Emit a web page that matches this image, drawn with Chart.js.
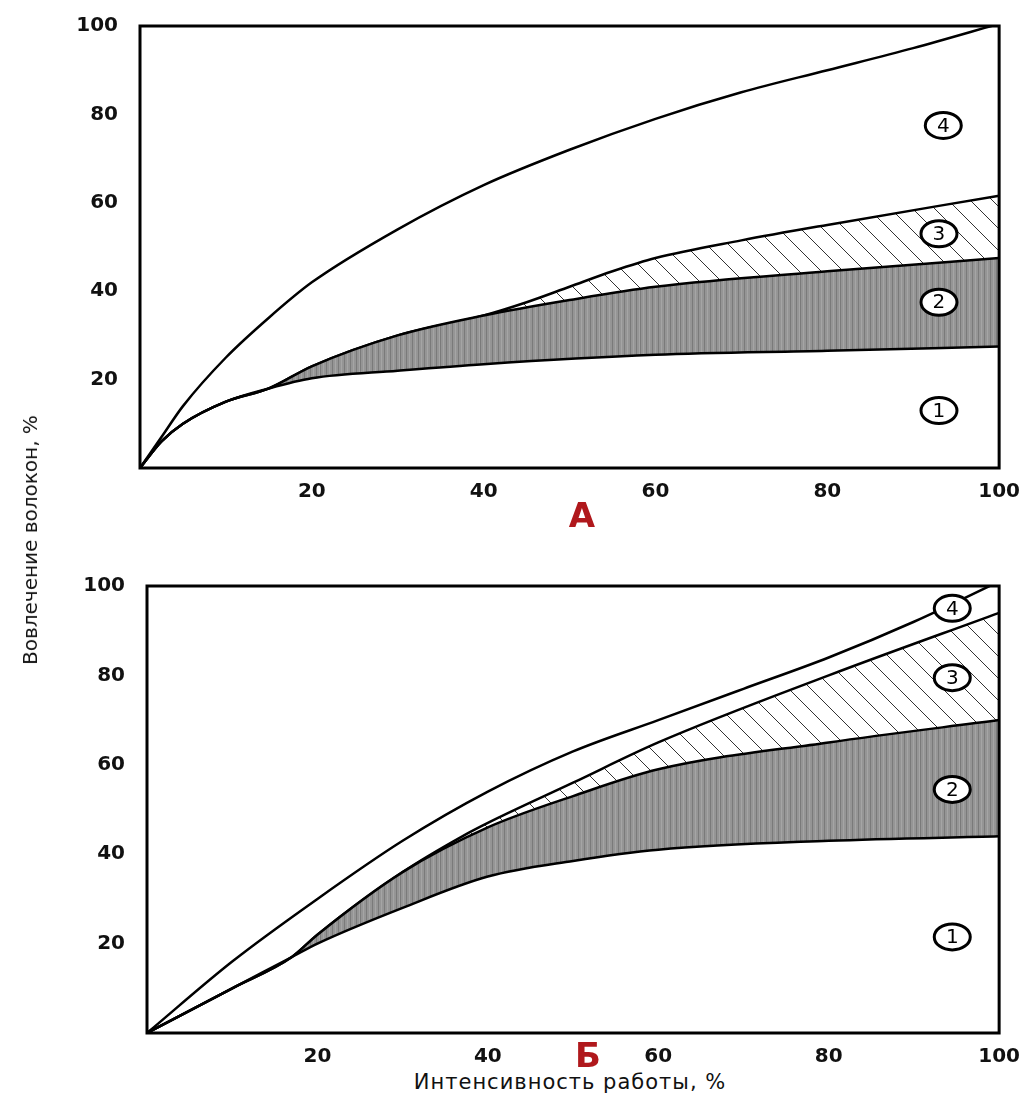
<!DOCTYPE html>
<html><head><meta charset="utf-8">
<script src="https://cdn.jsdelivr.net/npm/chart.js@4"></script>
<style>
body{margin:0;background:#fff;width:1024px;height:1106px;position:relative;overflow:hidden;font-family:"DejaVu Sans",sans-serif}
.box{position:absolute;left:0;width:1024px;height:510px}
#ylab{position:absolute;left:30px;top:540px;transform:translate(-50%,-50%) rotate(-90deg);font-size:20px;white-space:nowrap;color:#111}
#xlab{position:absolute;left:570px;top:1082px;transform:translate(-50%,-50%);font-size:21px;letter-spacing:1px;color:#111;white-space:nowrap}
.ttl{position:absolute;color:#b0181c;font-size:34px;font-weight:bold;transform:translate(-50%,-50%)}
</style></head><body>
<div class="box" style="top:0"><canvas id="cA"></canvas></div>
<div class="box" style="top:560px"><canvas id="cB"></canvas></div>
<div id="ylab">Вовлечение волокон, %</div>
<div id="xlab">Интенсивность работы, %</div>
<div class="ttl" style="left:582px;top:515px">А</div>
<div class="ttl" style="left:588px;top:1055px">Б</div>
<script>
// ── data (x = intensity %, y = fibre recruitment %) ──
const a1 = [[0,0],[2.5,6],[5,10],[10,15],[15,18],[20,20.3],[30,22],[40,23.5],[60,25.6],[80,26.5],[100,27.5]];
const a2 = [[0,0],[2.5,6],[5,10],[10,15],[15,18],[20,23],[30,30],[40,34.5],[50,38],[60,41],[80,44.5],[100,47.5]];
const a3 = [[0,0],[2.5,6],[5,10],[10,15],[15,18],[20,23],[30,30],[40,34.5],[45,37.5],[50,41],[55,44.5],[60,47.5],[70,51.5],[80,55],[100,61.6]];
const a4 = [[0,0],[2.5,7],[5,14],[10,25],[15,34],[20,42],[30,54],[40,64],[50,72],[60,79],[70,85],[80,90],[90,95],[100,100.5]];
const b1 = [[0,0],[10,10],[17,17],[20,20],[30,28],[40,35],[50,38.5],[60,41],[80,43],[100,44]];
const b2 = [[0,0],[10,10],[17,17],[20,22],[30,36],[40,46],[50,53],[60,59],[80,65],[100,70]];
const b3 = [[0,0],[10,10],[17,17],[20,22],[30,36],[37,44],[40,47],[50,56],[60,65],[80,80],[100,94]];
const b4 = [[0,0],[10,16],[20,30],[30,43],[40,54],[50,63],[60,70],[70,77],[80,84],[90,92],[100,101]];
const xTicks = [20, 40, 60, 80, 100];
const yTicks = [20, 40, 60, 80, 100];
const markA = [['4',93.5,77.5],['3',93,53],['2',93,37.5],['1',93,13]];
const markB = [['4',94.5,95],['3',94.5,79.5],['2',94.5,54.5],['1',94.5,21.5]];

const pts = arr => arr.map(([x,y]) => ({x,y}));

function grayPattern() {
  const c = document.createElement('canvas'); c.width = 40; c.height = 8;
  const g = c.getContext('2d');
  g.fillStyle = '#959595'; g.fillRect(0,0,40,8);
  const shades = ['#7a7a7a','#b0b0b0','#858585','#a5a5a5','#6f6f6f','#bababa'];
  for (let i = 0; i < 40; i += 3) { g.fillStyle = shades[i % 6]; g.fillRect(i,0,1,8); }
  return g.createPattern(c,'repeat');
}
function hatchPattern() {
  const c = document.createElement('canvas'); c.width = 22; c.height = 22;
  const g = c.getContext('2d');
  g.fillStyle = '#fff'; g.fillRect(0,0,22,22);
  g.strokeStyle = '#333'; g.lineWidth = 1;
  g.beginPath(); g.moveTo(0,0); g.lineTo(22,22); g.moveTo(-11,11); g.lineTo(11,33); g.moveTo(11,-11); g.lineTo(33,11); g.stroke();
  return g.createPattern(c,'repeat');
}

const frame = {
  id: 'frame',
  afterDatasetsDraw(chart, args, opts) {
    const {ctx, chartArea: a, scales: {x, y}} = chart;
    ctx.save();
    ctx.strokeStyle = '#000'; ctx.lineWidth = 3;
    ctx.strokeRect(a.left, a.top, a.right - a.left, a.bottom - a.top);
    ctx.font = '20px "DejaVu Sans"'; ctx.textAlign = 'center'; ctx.textBaseline = 'middle';
    opts.marks.forEach(([t, vx, vy]) => {
      const px = x.getPixelForValue(vx), py = y.getPixelForValue(vy);
      ctx.beginPath(); ctx.ellipse(px, py, 18, 13, 0, 0, Math.PI * 2);
      ctx.fillStyle = '#fff'; ctx.fill(); ctx.lineWidth = 3; ctx.stroke();
      ctx.fillStyle = '#000'; ctx.fillText(t, px, py + 1);
    });
    ctx.restore();
  }
};

function makeChart(id, s1, s2, s3, s4, marks, pad, yW, xH) {
  const line = (data, fill, bg) => ({ data: pts(data), borderColor: '#000', borderWidth: 2.5, pointRadius: 0, cubicInterpolationMode: 'monotone', fill, backgroundColor: bg });
  const tickFont = { family: '"DejaVu Sans"', size: 20, weight: 'bold' };
  return new Chart(document.getElementById(id), {
    type: 'line',
    data: { datasets: [
      line(s1, false, 'transparent'),
      line(s2, '-1', grayPattern()),
      line(s3, '-1', hatchPattern()),
      line(s4, false, 'transparent')
    ] },
    options: {
      responsive: true, maintainAspectRatio: false, animation: false,
      layout: { padding: pad },
      plugins: { legend: { display: false }, tooltip: { enabled: false }, frame: { marks } },
      scales: {
        x: { type: 'linear', min: 0, max: 100, grid: { display: false }, border: { display: false },
             afterBuildTicks: s => { s.ticks = xTicks.map(v => ({ value: v })); },
             afterFit: s => { s.height = xH; },
             ticks: { color: '#111', font: tickFont, padding: 4 } },
        y: { min: 0, max: 100, grid: { display: false }, border: { display: false },
             afterBuildTicks: s => { s.ticks = yTicks.map(v => ({ value: v })); },
             afterFit: s => { s.width = yW; },
             ticks: { color: '#111', font: tickFont, padding: 14 } }
      }
    },
    plugins: [frame]
  });
}

makeChart('cA', a1, a2, a3, a4, markA, { top: 5, right: 21, left: 0, bottom: 0 }, 140, 42);
makeChart('cB', b1, b2, b3, b4, markB, { top: 9, right: 19, left: 0, bottom: 0 }, 147, 37);
</script>
</body></html>
